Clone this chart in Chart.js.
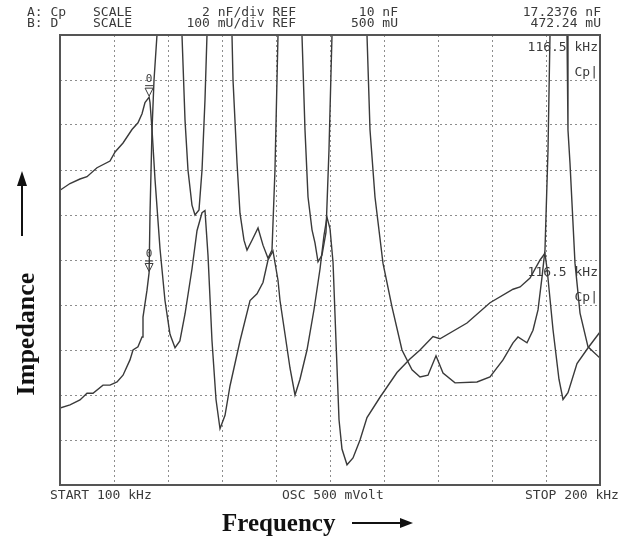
<!DOCTYPE html>
<html>
<head>
<meta charset="utf-8">
<script src="https://cdn.jsdelivr.net/npm/chart.js@4.4.1/dist/chart.umd.min.js"></script>
<style>
  html,body{margin:0;padding:0;background:#fff;}
  #wrap{width:629px;height:540px;}
</style>
</head>
<body>
<div id="wrap"><canvas id="c" width="629" height="540"></canvas></div>
<script>
// sweep 100..200 kHz, Cp in nF (2 nF/div, ref 10 nF at centre), D in mU (100 mU/div, ref 500 mU)
const freqCp=[100,101.85,103.7,105,106.85,109.26,110.2,111.67,113.33,114.44,115.19,115.74,116.5,116.67,117.04,117.59,118.52,119.44,120.37,121.3,
  122.2,123.15,124.44,125.37,126.3,126.85,127.41,128.15,128.89,129.63,130.56,131.48,133.33,135.19,136.48,137.59,138.52,139.44,140.37,140.74,
  141.67,142.59,143.52,144.44,145.74,147.04,148.15,148.89,149.44,150,150.56,151.11,151.67,152.22,153.15,154.26,155.56,156.85,159.26,162.4,
  164.8,166.67,169.07,170.37,175.37,179.63,183.9,185.2,187.04,188.9,189.8,190.2,191.3,192.4,193.15,194.07,195.74,197.8,200];
const cpNF=[13.1,13.4,13.6,13.7,14.1,14.4,14.8,15.2,15.8,16.1,16.5,17.0,17.24,17.0,15.8,13.6,10.5,8.2,6.7,6.1,
  6.4,7.6,9.6,11.3,12.1,12.2,10.2,6.4,3.8,2.5,3.1,4.4,6.4,8.2,8.5,9.0,10.0,10.4,9.1,8.2,
  6.7,5.2,4.0,4.7,6.0,7.8,9.6,11.1,11.9,11.4,9.9,6.4,2.9,1.6,0.9,1.2,2.0,3.0,3.9,5.0,
  5.6,6.0,6.6,6.5,7.2,8.1,8.7,8.8,9.2,10.0,10.3,9.6,6.9,4.7,3.8,4.1,5.4,6.1,6.8];

const freqD=[100,101.85,103.7,105,106.11,107.96,109.26,110.56,111.67,112.96,113.52,114.44,115.19,115.37,116.11,116.5,116.67,117.04,117.41,117.96,
  120.74,122.59,123.15,123.7,124.44,125,125.74,126.3,126.85,127.22,129.25,131.85,132.04,132.78,133.33,134.07,134.63,135.56,136.67,137.59,
  138.52,139.26,139.81,140.37,142.66,144.81,145.37,145.93,146.67,147.22,147.78,148.52,149.26,149.81,150.37,153.3,156.85,157.41,158.33,159.81,
  161.48,163.33,165.19,166.67,168.15,169.63,170.93,173.15,177.22,179.63,182.04,183.89,184.81,186.48,187.59,188.52,189.26,189.81,190.37,190.74,
  192.68,193.89,194.07,194.44,195.37,196.3,197.78,200];
const dMU=[171,178,189,204,204,222,222,229,244,278,300,307,329,373,433,472,604,789,900,1000,
  1640,1000,811,700,622,600,611,700,856,1000,1790,1000,900,716,604,544,522,544,571,533,
  504,522,700,1000,2225,1000,789,640,567,538,496,511,562,744,1000,2340,1000,789,640,493,
  396,300,256,240,244,287,249,227,229,240,278,316,329,316,344,389,462,522,744,1000,
  2340,1000,789,716,493,382,307,282];

const markerF=116.5, markerCp=17.2376, markerD=472.24;
const headA=['A: Cp','SCALE','2 nF/div REF','10 nF','17.2376 nF'];
const headB=['B: D','SCALE','100 mU/div REF','500 mU','472.24 mU'];
const footer=['START 100 kHz','OSC 500 mVolt','STOP 200 kHz'];

const pts=(xs,ys)=>xs.map((x,i)=>({x:x,y:ys[i]}));
const INK='#3a3a3a';

const decor={
  id:'decor',
  beforeDraw(ch){
    const c=ch.ctx; c.save(); c.fillStyle='#fff'; c.fillRect(0,0,ch.width,ch.height); c.restore();
  },
  afterDraw(ch){
    const c=ch.ctx, a=ch.chartArea, xs=ch.scales.x, ys=ch.scales.y, yd=ch.scales.yD;
    c.save();
    // frame
    c.strokeStyle='#555'; c.lineWidth=2;
    c.strokeRect(a.left,a.top,a.right-a.left,a.bottom-a.top);

    // header
    c.fillStyle=INK; c.font='13px "DejaVu Sans Mono"'; c.textBaseline='middle';
    const row=(t,y)=>{
      c.textAlign='left'; c.fillText(t[0],27,y); c.fillText(t[1],93,y);
      c.textAlign='right'; c.fillText(t[2],296,y); c.fillText(t[3],398,y); c.fillText(t[4],601,y);
    };
    row(headA,13); row(headB,24);

    // marker readouts inside the plot
    c.textAlign='right';
    c.fillText('116.5 kHz',598,48); c.fillText('Cp|',598,73);
    c.fillText('116.5 kHz',598,273); c.fillText('Cp|',598,298);

    // footer
    c.textAlign='left';
    c.fillText(footer[0],50,496); c.fillText(footer[1],282,496); c.fillText(footer[2],525,496);

    // markers
    const mk=(py)=>{
      const px=xs.getPixelForValue(markerF);
      c.strokeStyle=INK; c.lineWidth=1;
      c.beginPath(); c.moveTo(px-4,py-9); c.lineTo(px+4,py-9); c.lineTo(px,py-1); c.closePath(); c.stroke();
      c.beginPath(); c.moveTo(px-4,py-11.5); c.lineTo(px+4,py-11.5); c.stroke();
      c.font='11px "DejaVu Sans Mono"'; c.textAlign='center'; c.fillStyle=INK;
      c.fillText('0',px,py-18);
    };
    mk(ys.getPixelForValue(markerCp));
    mk(yd.getPixelForValue(markerD));

    // axis captions
    c.fillStyle='#111'; c.strokeStyle='#111';
    c.font='bold 25px "Liberation Serif"'; c.textAlign='left'; c.textBaseline='alphabetic';
    c.fillText('Frequency',222,531);
    c.lineWidth=2;
    c.beginPath(); c.moveTo(352,523); c.lineTo(402,523); c.stroke();
    c.beginPath(); c.moveTo(413,523); c.lineTo(400,518); c.lineTo(400,528); c.closePath(); c.fill();

    c.save(); c.translate(34,334); c.rotate(-Math.PI/2);
    c.textAlign='center'; c.font='bold 26px "Liberation Serif"'; c.fillText('Impedance',0,0);
    c.restore();
    c.beginPath(); c.moveTo(22,236); c.lineTo(22,184); c.stroke();
    c.beginPath(); c.moveTo(22,171); c.lineTo(17,186); c.lineTo(27,186); c.closePath(); c.fill();
    c.restore();
  }
};

const gridStyle={color:'#8d8d8d',lineWidth:1,drawTicks:false};

new Chart(document.getElementById('c'),{
  type:'line',
  data:{datasets:[
    {label:'Cp',data:pts(freqCp,cpNF),yAxisID:'y',borderColor:INK,borderWidth:1.4,pointRadius:0,tension:0},
    {label:'D',data:pts(freqD,dMU),yAxisID:'yD',borderColor:INK,borderWidth:1.4,pointRadius:0,tension:0}
  ]},
  options:{
    responsive:false,animation:false,
    layout:{padding:{left:60,top:35,right:29,bottom:55}},
    plugins:{legend:{display:false},tooltip:{enabled:false}},
    scales:{
      x:{type:'linear',min:100,max:200,
         ticks:{display:false,stepSize:10},
         grid:gridStyle,border:{display:false,dash:[2,3]}},
      y:{min:0,max:20,ticks:{display:false,stepSize:2},
         grid:gridStyle,border:{display:false,dash:[2,3]}},
      yD:{min:0,max:1000,display:false}
    }
  },
  plugins:[decor]
});
</script>
</body>
</html>
